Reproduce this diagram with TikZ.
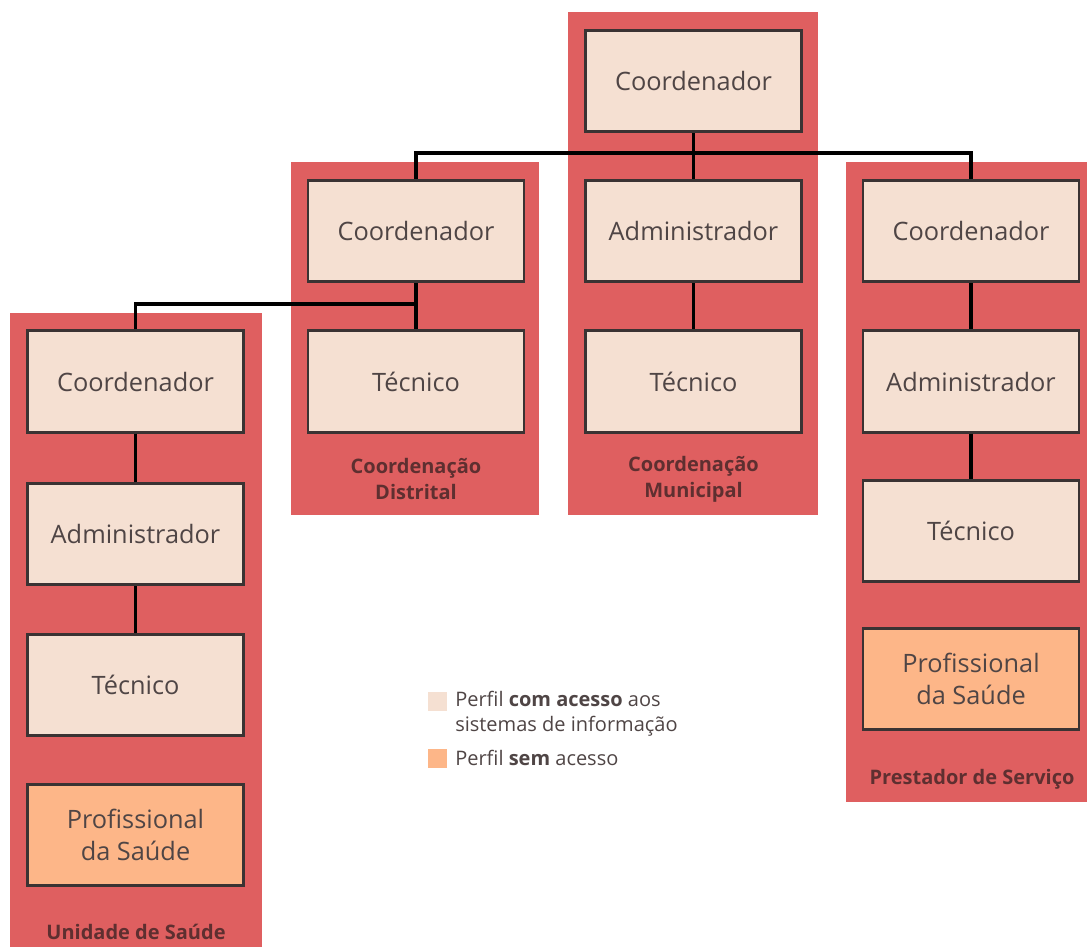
\documentclass[tikz,border=0pt]{standalone}
\usepackage{fontspec}
\setmainfont{Open Sans}
\definecolor{grp}{HTML}{DF5F60}
\definecolor{lite}{HTML}{F5E0D2}
\definecolor{orng}{HTML}{FDB688}
\definecolor{bord}{HTML}{3A3333}
\definecolor{txt}{HTML}{4F4545}
\definecolor{gtxt}{HTML}{5E2F30}
\begin{document}
\begin{tikzpicture}[x=0.75pt,y=-0.75pt,
  grpbox/.style={fill=grp,draw=none},
  role/.style={draw=bord,line width=2.2pt,fill=lite,minimum width=162pt,minimum height=76pt,inner sep=0pt,align=center,text=txt,font=\fontsize{19}{24}\selectfont},
  nosys/.style={role,fill=orng},
  grplabel/.style={text=gtxt,font=\fontsize{15}{19.5}\selectfont\bfseries,align=center},
  conn/.style={draw=black,line width=2.4pt},
  legtxt/.style={anchor=west,text=txt,font=\fontsize{15}{18.75}\selectfont,align=left,inner sep=0pt}]
\useasboundingbox (0,0) rectangle (1087,947);
% group backgrounds
\fill[grpbox] (568,12) rectangle (818,515);
\fill[grpbox] (291,162) rectangle (539,515);
\fill[grpbox] (10,313) rectangle (262,947);
\fill[grpbox] (846,162) rectangle (1087,802);
% municipal
\node[role] (mc) at (693.5,81) {Coordenador};
\node[role] (ma) at (693.5,231) {Administrador};
\node[role] (mt) at (693.5,381.5) {Técnico};
\node[grplabel] (ml) at (693.5,479) {Coordenação\\Municipal};
% distrital
\node[role] (dc) at (416,231) {Coordenador};
\node[role] (dt) at (416,381.5) {Técnico};
\node[grplabel] (dl) at (416,479) {Coordenação\\Distrital};
% unidade
\node[role] (uc) at (135.5,381.5) {Coordenador};
\node[role] (ua) at (135.5,534) {Administrador};
\node[role] (ut) at (135.5,685) {Técnico};
\node[nosys] (up) at (135.5,835) {Profissional\\da Saúde};
\node[grplabel] (ul) at (136,932) {Unidade de Saúde};
% prestador
\node[role] (pc) at (971,231) {Coordenador};
\node[role] (pa) at (971,381.5) {Administrador};
\node[role] (pt) at (971,531) {Técnico};
\node[nosys] (pp) at (971,679) {Profissional\\da Saúde};
\node[grplabel] (pl) at (972,779) {Prestador de Serviço};
% connectors
\coordinate (j1) at (693.5,153);
\coordinate (j2) at (416,304);
\draw[conn] (mc.south) -- (j1);
\draw[conn] (dc.north) |- (j1) -| (pc.north);
\draw[conn] (j1) -- (ma.north);
\draw[conn] (ma) -- (mt);
\draw[conn] (dc) -- (dt);
\draw[conn] (uc.north) |- (j2);
\draw[conn] (uc) -- (ua);
\draw[conn] (ua) -- (ut);
\draw[conn] (pc) -- (pa);
\draw[conn] (pa) -- (pt);
% legend
\fill[lite] (428,692) rectangle (447,711);
\fill[orng] (428,749) rectangle (447,768);
\node[legtxt] (lt1) at (455,714) {Perfil \textbf{com acesso} aos\\sistemas de informação};
\node[legtxt] (lt2) at (455,758) {Perfil \textbf{sem} acesso};
\end{tikzpicture}
\end{document}
